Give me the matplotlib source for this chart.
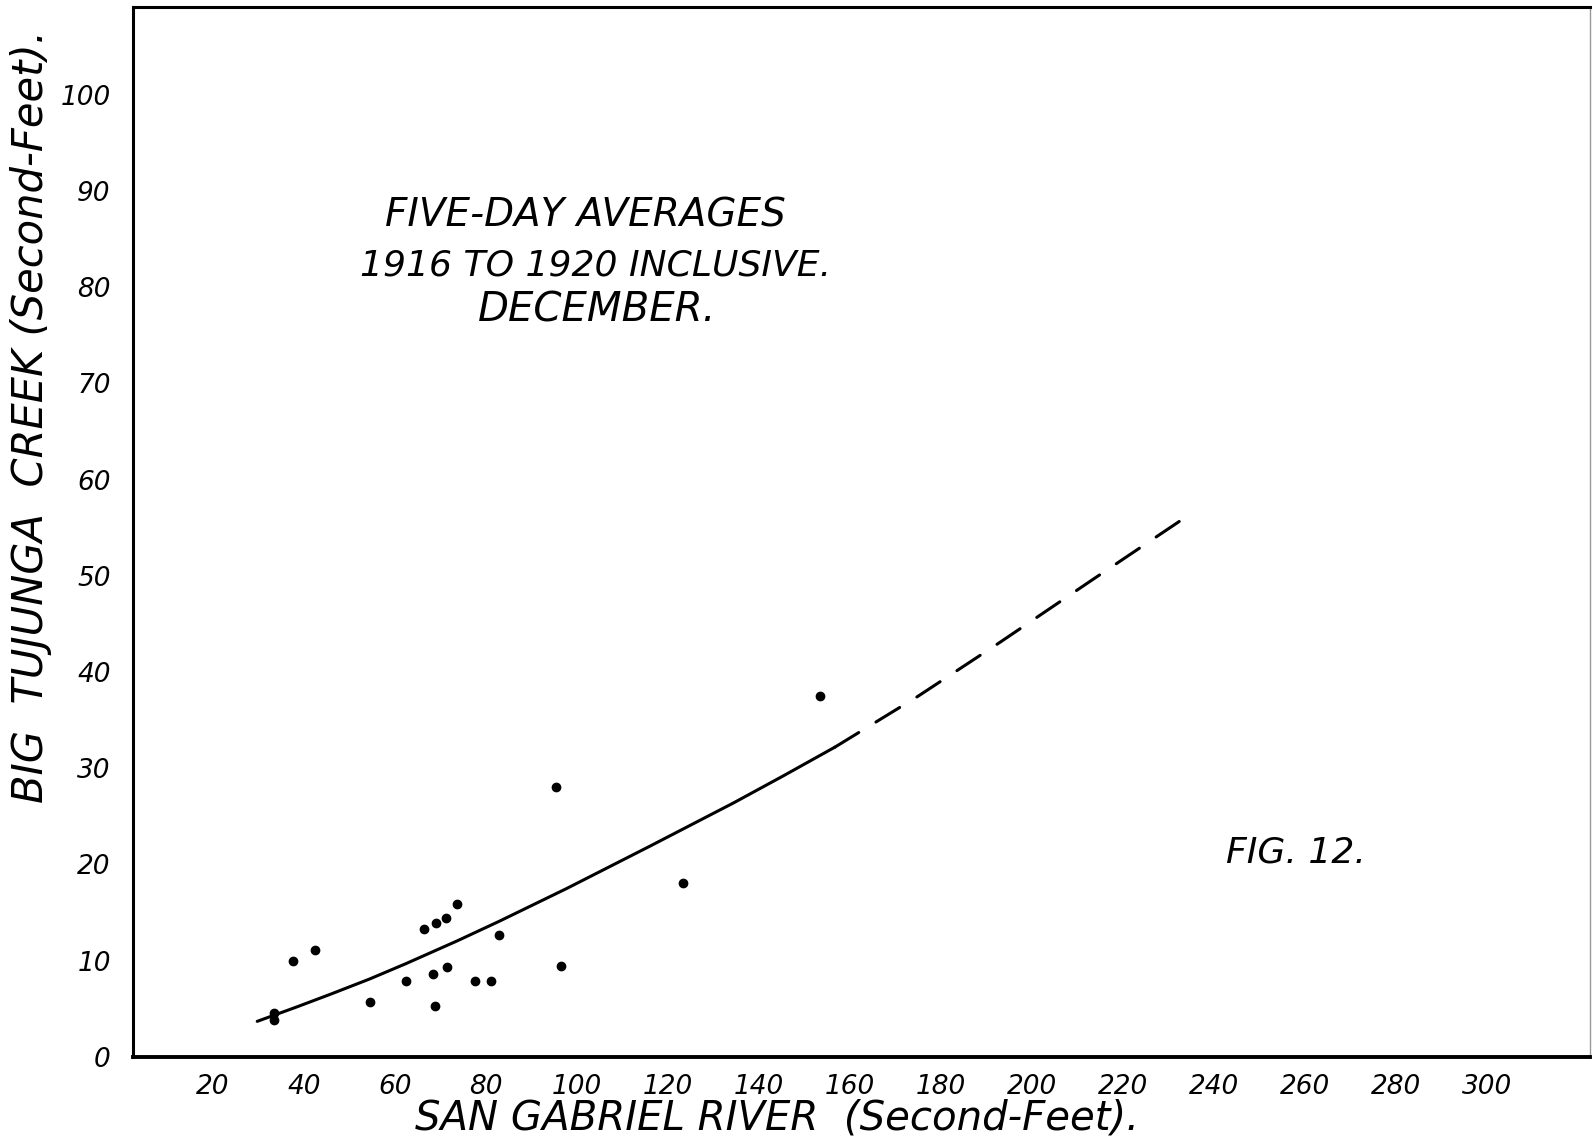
import numpy as np
import matplotlib.pyplot as plt

plt.rcParams['font.family'] = ['DejaVu Sans']

# five-day averages, December 1916-1920 (second-feet)
san_gabriel = [33.3, 33.3, 37.6, 42.3, 54.4, 62.4, 66.4, 68.9, 71.3, 73.6,
               68.3, 71.5, 68.7, 77.5, 81.0, 82.9, 96.5, 95.3, 123.2, 153.4]
tujunga = [4.6, 3.8, 10.0, 11.1, 5.7, 7.9, 13.3, 13.9, 14.4, 15.9,
           8.6, 9.3, 5.3, 7.9, 7.9, 12.7, 9.5, 28.0, 18.1, 37.5]

# hand-drawn curve
curve_x = [29.7, 38.4, 45.7, 54.4, 62.4, 73.6, 82.9, 97.7, 116.0, 134.4, 145.3, 156.7]
curve_y = [3.7, 5.2, 6.5, 8.1, 9.7, 12.05, 14.1, 17.5, 21.9, 26.4, 29.2, 32.2]
ext_x = [156.7, 175.0, 193.0, 213.0, 233.8]
ext_y = [32.2, 37.5, 43.1, 49.5, 56.1]

xticks = list(range(20, 301, 20))
yticks = list(range(0, 101, 10))

fig = plt.figure(figsize=(15.93, 11.48), dpi=100)
ax = fig.add_axes([0.0835, 0.0793, 0.9145, 0.9146])

ax.plot(curve_x, curve_y, color='black', lw=2.2, solid_capstyle='round',
        solid_joinstyle='round')
ax.plot(ext_x, ext_y, color='black', lw=2.2, dashes=(9.1, 6.6),
        dash_capstyle='round')
ax.plot(san_gabriel, tujunga, 'o', ms=6, color='black')

ax.set_xlim(2.4, 322.6)
ax.set_ylim(0, 109.1)

ax.set_xticks(xticks)
ax.set_yticks(yticks)
ax.tick_params(length=0, labelsize=19)
ax.tick_params(axis='x', pad=12)
ax.tick_params(axis='y', pad=16)
for lab in ax.get_xticklabels() + ax.get_yticklabels():
    lab.set_fontstyle('italic')

for side in ['left', 'top']:
    ax.spines[side].set_linewidth(2.2)
ax.spines['bottom'].set_linewidth(2.8)
ax.spines['right'].set_linewidth(1.0)
ax.spines['right'].set_color('#999999')

fig.text(0.4878, 0.0261, 'SAN GABRIEL RIVER  (Second-Feet).', fontsize=29,
         style='italic', ha='center', va='center')
fig.text(0.0195, 0.6376, 'BIG  TUJUNGA  CREEK (Second-Feet).', fontsize=30,
         style='italic', ha='center', va='center', rotation=90)

fig.text(0.3675, 0.8127, 'FIVE-DAY AVERAGES', fontsize=28, style='italic',
         ha='center', va='center')
fig.text(0.3738, 0.7683, '1916 TO 1920 INCLUSIVE.', fontsize=26, style='italic',
         ha='center', va='center')
fig.text(0.3748, 0.73, 'DECEMBER.', fontsize=29, style='italic',
         ha='center', va='center')
fig.text(0.8136, 0.257, 'FIG. 12.', fontsize=26, style='italic',
         ha='center', va='center')

fig.savefig('out.png', dpi=100)
